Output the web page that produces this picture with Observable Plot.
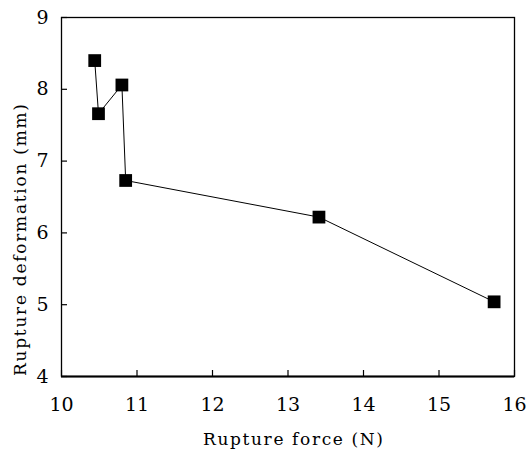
<!DOCTYPE html>
<html>
<head>
<meta charset="utf-8">
<script src="https://cdn.jsdelivr.net/npm/d3@7"></script>
<script src="https://cdn.jsdelivr.net/npm/@observablehq/plot@0.6"></script>
<style>
  html, body { margin: 0; padding: 0; background: #fff; }
  #chart svg { display: block; }
</style>
</head>
<body>
<div id="chart"></div>
<script>
// Rupture force (N) vs rupture deformation (mm)
const force = [10.44, 10.49, 10.80, 10.85, 13.41, 15.73];
const deformation = [8.40, 7.66, 8.06, 6.73, 6.22, 5.04];
const xTicks = [10, 11, 12, 13, 14, 15, 16];
const yTicks = [4, 5, 6, 7, 8, 9];
const xTitle = "Rupture force (N)";
const yTitle = "Rupture deformation (mm)";

const data = force.map((f, i) => ({force: f, deformation: deformation[i]}));

const W = 530, H = 461;
const mL = 61, mR = 16, mT = 17, mB = 85;
const plotW = W - mL - mR, plotH = H - mT - mB;

const serif = "DejaVu Serif";

const chart = Plot.plot({
  width: W,
  height: H,
  marginLeft: mL,
  marginRight: mR,
  marginTop: mT,
  marginBottom: mB,
  style: {color: "#000", background: "#fff"},
  x: {domain: [10, 16]},
  y: {domain: [4, 9]},
  marks: [
    Plot.frame({stroke: "#000", strokeWidth: 1.3}),
    Plot.ruleY([4], {stroke: "#000", strokeWidth: 2.2}),
    // inward tick marks
    Plot.tickX(xTicks, {x: d => d, stroke: "#000", strokeWidth: 1.2, insetTop: plotH - 6}),
    Plot.tickY(yTicks, {y: d => d, stroke: "#000", strokeWidth: 1.2, insetRight: plotW - 6}),
    Plot.axisX({ticks: xTicks, tickSize: 0, tickPadding: 21, fontSize: 19, fontFamily: serif, label: null, tickFormat: d => d}),
    Plot.axisY({ticks: yTicks, tickSize: 0, tickPadding: 13, fontSize: 19, fontFamily: serif, label: null, tickFormat: d => d}),
    Plot.line(data, {x: "force", y: "deformation", stroke: "#000", strokeWidth: 1}),
    Plot.dot(data, {x: "force", y: "deformation", symbol: "square", r: 7.2, fill: "#000", stroke: "none"}),
    Plot.text([xTitle], {text: d => d, frameAnchor: "bottom", textAnchor: "middle", lineAnchor: "middle",
      dx: 5, dy: 63, fontFamily: serif, fontSize: 17, fill: "#000", className: "x-title"}),
    Plot.text([yTitle], {text: d => d, frameAnchor: "left", textAnchor: "middle", lineAnchor: "middle",
      rotate: -90, dx: -41, dy: 43, fontFamily: serif, fontSize: 17, fill: "#000", className: "y-title"})
  ]
});

// spread the axis titles to their typewriter-like widths
const spread = (cls, len) => chart.querySelectorAll(`g.${cls} text`).forEach(t => {
  t.setAttribute("textLength", len);
  t.setAttribute("lengthAdjust", "spacing");
});
spread("x-title", 180);
spread("y-title", 272);

document.getElementById("chart").appendChild(chart);
</script>
</body>
</html>
